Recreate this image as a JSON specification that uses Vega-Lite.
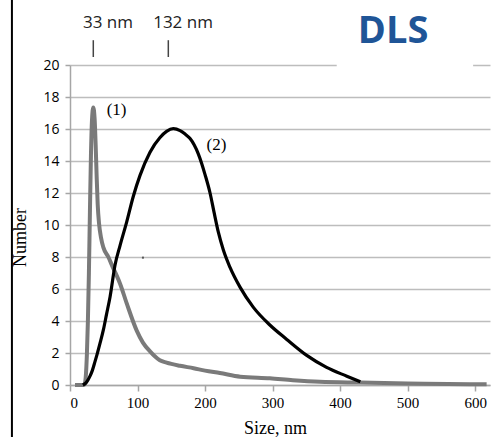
{
  "$schema": "https://vega.github.io/schema/vega-lite/v6.json",
  "autosize": "none",
  "width": 420,
  "height": 320,
  "padding": {"left": 70, "top": 65, "right": 8, "bottom": 52},
  "background": "white",
  "config": {"view": {"stroke": null}},
  "datasets": {
    "curves": [
      {"series": "1", "x": 7.4, "y": 0},
      {"series": "1", "x": 15, "y": 0},
      {"series": "1", "x": 21, "y": 0.02},
      {"series": "1", "x": 22.5, "y": 0.2},
      {"series": "1", "x": 23.8, "y": 0.8},
      {"series": "1", "x": 25, "y": 1.9},
      {"series": "1", "x": 26.5, "y": 4},
      {"series": "1", "x": 28, "y": 7},
      {"series": "1", "x": 29.5, "y": 10.8},
      {"series": "1", "x": 31, "y": 14.3},
      {"series": "1", "x": 32.5, "y": 16.5},
      {"series": "1", "x": 34.5, "y": 17.35},
      {"series": "1", "x": 36.5, "y": 16.6},
      {"series": "1", "x": 38, "y": 15},
      {"series": "1", "x": 39.5, "y": 13},
      {"series": "1", "x": 41, "y": 11.3},
      {"series": "1", "x": 43, "y": 10.1},
      {"series": "1", "x": 46, "y": 9.2},
      {"series": "1", "x": 49.4, "y": 8.6},
      {"series": "1", "x": 56.8, "y": 8.0},
      {"series": "1", "x": 64, "y": 7.3},
      {"series": "1", "x": 69, "y": 6.85},
      {"series": "1", "x": 74, "y": 6.35},
      {"series": "1", "x": 84, "y": 5.1},
      {"series": "1", "x": 98.8, "y": 3.4},
      {"series": "1", "x": 108, "y": 2.65},
      {"series": "1", "x": 118.5, "y": 2.1},
      {"series": "1", "x": 133, "y": 1.55},
      {"series": "1", "x": 143, "y": 1.4},
      {"series": "1", "x": 163, "y": 1.2},
      {"series": "1", "x": 183, "y": 1.05},
      {"series": "1", "x": 200, "y": 0.9},
      {"series": "1", "x": 222, "y": 0.75},
      {"series": "1", "x": 252, "y": 0.52},
      {"series": "1", "x": 296, "y": 0.42},
      {"series": "1", "x": 330, "y": 0.3},
      {"series": "1", "x": 370, "y": 0.2},
      {"series": "1", "x": 430, "y": 0.15},
      {"series": "1", "x": 500, "y": 0.1},
      {"series": "1", "x": 560, "y": 0.06},
      {"series": "1", "x": 617, "y": 0.05},
      {"series": "2", "x": 19, "y": 0},
      {"series": "2", "x": 24, "y": 0.15},
      {"series": "2", "x": 29.6, "y": 0.55},
      {"series": "2", "x": 33, "y": 0.9},
      {"series": "2", "x": 37, "y": 1.46},
      {"series": "2", "x": 40, "y": 1.9},
      {"series": "2", "x": 44.4, "y": 2.6},
      {"series": "2", "x": 49.4, "y": 3.44},
      {"series": "2", "x": 54, "y": 4.4},
      {"series": "2", "x": 59.3, "y": 5.5},
      {"series": "2", "x": 66.7, "y": 7.5},
      {"series": "2", "x": 74, "y": 8.7},
      {"series": "2", "x": 84, "y": 10.2},
      {"series": "2", "x": 93.8, "y": 11.8},
      {"series": "2", "x": 103.7, "y": 13.1},
      {"series": "2", "x": 118.5, "y": 14.55},
      {"series": "2", "x": 133, "y": 15.45},
      {"series": "2", "x": 143, "y": 15.85},
      {"series": "2", "x": 153, "y": 16.02},
      {"series": "2", "x": 163, "y": 15.9},
      {"series": "2", "x": 170, "y": 15.7},
      {"series": "2", "x": 177.8, "y": 15.4},
      {"series": "2", "x": 184, "y": 15.0},
      {"series": "2", "x": 190, "y": 14.45},
      {"series": "2", "x": 195, "y": 13.85},
      {"series": "2", "x": 200, "y": 13.15},
      {"series": "2", "x": 207.4, "y": 12.0},
      {"series": "2", "x": 213.3, "y": 10.8},
      {"series": "2", "x": 219.7, "y": 9.55},
      {"series": "2", "x": 227, "y": 8.45},
      {"series": "2", "x": 237, "y": 7.35},
      {"series": "2", "x": 252, "y": 6.1},
      {"series": "2", "x": 271.6, "y": 4.85},
      {"series": "2", "x": 296, "y": 3.75},
      {"series": "2", "x": 321, "y": 2.85},
      {"series": "2", "x": 350.6, "y": 1.85},
      {"series": "2", "x": 380, "y": 1.1},
      {"series": "2", "x": 410, "y": 0.55},
      {"series": "2", "x": 430, "y": 0.2}
    ]
  },
  "encoding": {
    "x": {"field": "x", "type": "quantitative", "scale": {"domain": [0, 622], "nice": false, "zero": false},
      "axis": {"values": [0, 100, 200, 300, 400, 500, 600], "grid": false, "title": "Size, nm",
        "domainColor": "#a6a6a6", "domainWidth": 1.5, "tickColor": "#a6a6a6", "tickWidth": 1.5, "tickSize": 6,
        "labelFont": "Liberation Serif", "labelFontSize": 15, "labelColor": "black", "labelPadding": 4,
        "titleFont": "Liberation Serif", "titleFontSize": 18, "titleFontWeight": "normal", "titleColor": "black",
        "titleX": 205, "titleY": 43, "titleBaseline": "middle", "titleAlign": "center"}},
    "y": {"field": "y", "type": "quantitative", "scale": {"domain": [0, 20], "nice": false, "zero": false},
      "axis": {"values": [0, 2, 4, 6, 8, 10, 12, 14, 16, 18, 20], "labelOverlap": false, "grid": true, "gridColor": "#bdbdbd", "gridWidth": 1.5,
        "title": "Number", "domainColor": "#a6a6a6", "domainWidth": 1.5, "tickColor": "#a6a6a6", "tickWidth": 1.5, "tickSize": 5,
        "labelFont": "Open Sans", "labelFontSize": 14, "labelColor": "black", "labelPadding": 6,
        "titleFont": "Liberation Serif", "titleFontSize": 18, "titleFontWeight": "normal", "titleColor": "black",
        "titleAngle": -90, "titleX": -50, "titleY": 172, "titleBaseline": "middle", "titleAlign": "center"}}
  },
  "layer": [
    {
      "data": {"values": [{"x": 395, "x2": 597, "y": 19.7, "y2": 20.3}]},
      "mark": {"type": "rect", "color": "white"},
      "encoding": {"x2": {"field": "x2"}, "y2": {"field": "y2"}}
    },
    {
      "data": {"values": [{"x": -86, "y": -3.4, "y2": 24.2}]},
      "mark": {"type": "rule", "color": "black", "strokeWidth": 2, "clip": false},
      "encoding": {"y2": {"field": "y2"}}
    },
    {
      "data": {"name": "curves"},
      "transform": [{"filter": "datum.series == '1'"}],
      "mark": {"type": "line", "color": "#7a7a7a", "strokeWidth": 4, "interpolate": "monotone"},
      "encoding": {}
    },
    {
      "data": {"name": "curves"},
      "transform": [{"filter": "datum.series == '2'"}],
      "mark": {"type": "line", "color": "#000000", "strokeWidth": 3.2, "interpolate": "monotone"},
      "encoding": {}
    },
    {
      "data": {"values": [{"x": 108, "y": 7.96}]},
      "mark": {"type": "point", "shape": "square", "filled": true, "size": 4, "color": "#555555", "opacity": 1},
      "encoding": {}
    },
    {
      "data": {"values": [{"x": 34.5, "y": 20.5, "y2": 21.55}, {"x": 145.6, "y": 20.5, "y2": 21.55}]},
      "mark": {"type": "rule", "color": "#444444", "strokeWidth": 1.5, "clip": false},
      "encoding": {"y2": {"field": "y2"}}
    },
    {
      "data": {"values": [{"x": 56.3, "y": 22.6, "t": "33 nm"}, {"x": 167.4, "y": 22.6, "t": "132 nm"}]},
      "mark": {"type": "text", "font": "Open Sans", "fontSize": 17, "color": "#222222", "align": "center", "baseline": "middle"},
      "encoding": {"text": {"field": "t"}}
    },
    {
      "data": {"values": [{"x": 69, "y": 17.2, "t": "(1)"}, {"x": 217, "y": 15, "t": "(2)"}]},
      "mark": {"type": "text", "font": "Liberation Serif", "fontSize": 17, "color": "black", "align": "center", "baseline": "middle"},
      "encoding": {"text": {"field": "t"}}
    },
    {
      "data": {"values": [{"x": 478.5, "y": 22.06, "t": "DLS"}]},
      "mark": {"type": "text", "font": "Open Sans", "fontWeight": "bold", "fontSize": 38, "color": "#1F5597", "align": "center", "baseline": "middle"},
      "encoding": {"text": {"field": "t"}}
    }
  ]
}
